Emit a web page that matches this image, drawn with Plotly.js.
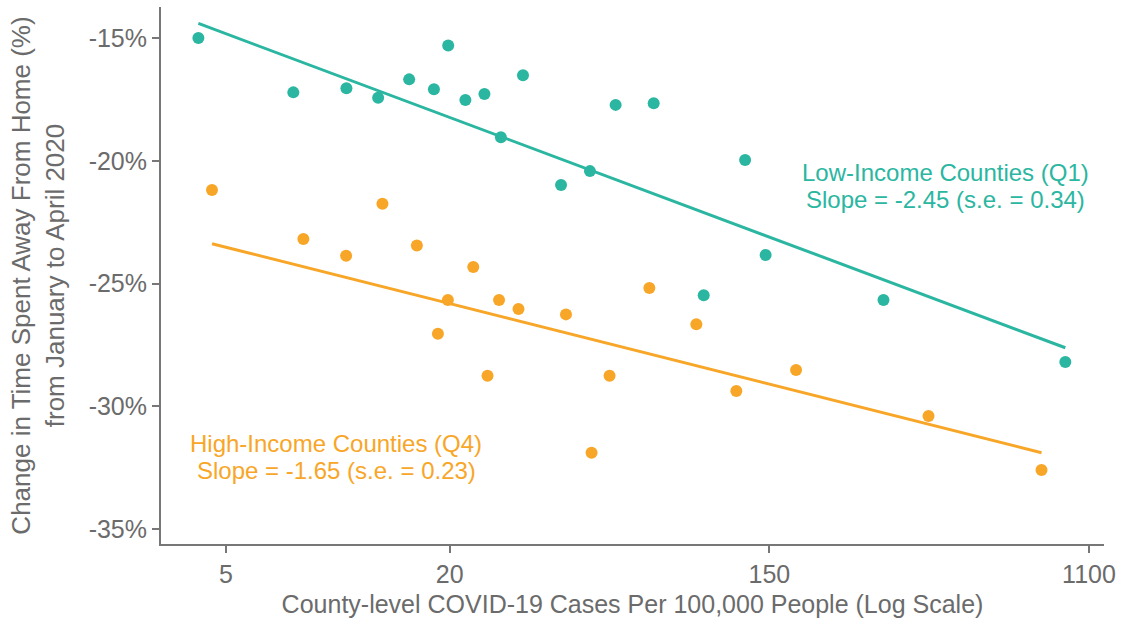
<!DOCTYPE html>
<html>
<head>
<meta charset="utf-8">
<script src="https://cdn.plot.ly/plotly-3.0.1.min.js"></script>
<style>html,body{margin:0;padding:0;background:#fff}#chart{width:1123px;height:622px}</style>
</head>
<body>
<div id="chart"></div>
<script>
// Low-income counties (Q1) binned scatter
const lowX = [4.166, 7.546, 10.52, 12.83, 15.58, 18.19, 19.89, 22.15, 24.95, 27.66, 31.76, 40.30, 48.29, 56.71, 71.96, 98.40, 127.5, 145.0, 303.1, 945.7];
const lowY = [-14.98, -17.20, -17.03, -17.42, -16.67, -17.07, -15.29, -17.51, -17.27, -19.03, -16.50, -20.98, -20.41, -17.71, -17.64, -25.47, -19.96, -23.83, -25.66, -28.19];
// High-income counties (Q4) binned scatter
const highX = [4.536, 8.036, 10.50, 13.18, 16.35, 18.65, 19.85, 23.27, 25.44, 27.34, 30.88, 41.56, 48.78, 54.60, 70.03, 93.97, 120.7, 175.4, 401.8, 814.8];
const highY = [-21.18, -23.18, -23.86, -21.74, -23.44, -27.04, -25.66, -24.32, -28.75, -25.66, -26.03, -26.25, -31.89, -28.75, -25.17, -26.65, -29.37, -28.52, -30.39, -32.59];
// Fitted lines (endpoints)
const lowFitX = [4.166, 945.7];
const lowFitY = [-14.39, -27.61];
const highFitX = [4.536, 814.8];
const highFitY = [-23.37, -31.89];
// Tick values / labels
const xTickVals = [4.953, 20.086, 148.41, 1096.6];
const xTickText = ['5', '20', '150', '1100'];
const yTickVals = [-15, -20, -25, -30, -35];
const yTickText = ['-15%', '-20%', '-25%', '-30%', '-35%'];
const lowLabel = ['Low-Income Counties (Q1)', 'Slope = -2.45 (s.e. = 0.34)'];
const highLabel = ['High-Income Counties (Q4)', 'Slope = -1.65 (s.e. = 0.23)'];
const lowLabelPos = {x: 446.6, y: [-20.45, -21.55]};
const highLabelPos = {x: 9.87, y: [-31.50, -32.60]};

const teal = '#2bb6a1';
const orange = '#f8a628';
const grey = '#6b6b6b';
const fontFam = 'Liberation Sans, Arial, Helvetica, sans-serif';

const traces = [
  {x: lowFitX, y: lowFitY, mode: 'lines', line: {color: teal, width: 3}, hoverinfo: 'skip'},
  {x: highFitX, y: highFitY, mode: 'lines', line: {color: orange, width: 3}, hoverinfo: 'skip'},
  {x: lowX, y: lowY, mode: 'markers', marker: {color: teal, size: 12}},
  {x: highX, y: highY, mode: 'markers', marker: {color: orange, size: 12}}
];

const annotations = [];
lowLabel.forEach((t, i) => annotations.push({x: Math.log10(lowLabelPos.x), y: lowLabelPos.y[i], text: t, showarrow: false, borderpad: 0, font: {size: 24, color: teal}}));
highLabel.forEach((t, i) => annotations.push({x: Math.log10(highLabelPos.x), y: highLabelPos.y[i], text: t, showarrow: false, borderpad: 0, font: {size: 24, color: orange}}));

const layout = {
  width: 1123, height: 622,
  margin: {l: 161, r: 19, t: 7, b: 78},
  paper_bgcolor: '#fff', plot_bgcolor: '#fff',
  showlegend: false,
  font: {family: fontFam, color: grey, size: 24},
  xaxis: {
    type: 'log',
    range: [Math.log10(Math.exp(1.193)), Math.log10(Math.exp(7.094))],
    tickvals: xTickVals, ticktext: xTickText,
    showgrid: false, zeroline: false,
    showline: true, linecolor: '#777', linewidth: 2,
    ticks: 'outside', ticklen: 7, tickcolor: '#777', tickwidth: 2,
    tickfont: {size: 25, color: grey},
    title: {text: 'County-level COVID-19 Cases Per 100,000 People (Log Scale)', font: {size: 25, color: grey}, standoff: 8}
  },
  yaxis: {
    range: [-35.61, -13.72],
    tickvals: yTickVals, ticktext: yTickText,
    showgrid: false, zeroline: false,
    showline: true, linecolor: '#777', linewidth: 2,
    ticks: 'outside', ticklen: 7, tickcolor: '#777', tickwidth: 2,
    tickfont: {size: 25, color: grey},
    title: {text: 'Change in Time Spent Away From Home (%)<br>from January to April 2020', font: {size: 26, color: grey}, standoff: 17}
  },
  annotations: annotations
};

Plotly.newPlot('chart', traces, layout, {displayModeBar: false, staticPlot: true});
</script>
</body>
</html>
